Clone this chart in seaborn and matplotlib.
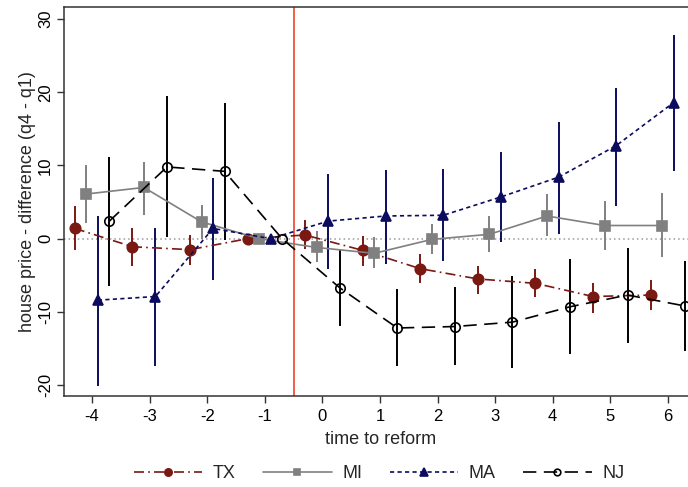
import numpy as np
import pandas as pd
import matplotlib
matplotlib.use("Agg")
import matplotlib.pyplot as plt
import seaborn as sns

# ---- data ----
time = [-4, -3, -2, -1, 0, 1, 2, 3, 4, 5, 6]
series = ["TX", "MI", "MA", "NJ"]

tx = [1.4, -1.1, -1.5, 0.0, 0.5, -1.6, -4.1, -5.5, -6.1, -7.9, -7.7]
tx_lo = [-1.5, -3.7, -3.6, np.nan, -1.45, -3.7, -6.0, -7.5, -8.0, -10.1, -9.8]
tx_hi = [4.4, 1.5, 0.5, np.nan, 2.55, 0.4, -2.1, -3.7, -4.1, -6.0, -5.6]

mi = [6.1, 7.0, 2.3, 0.0, -1.2, -2.0, -0.1, 0.6, 3.1, 1.8, 1.8]
mi_lo = [2.2, 3.3, -0.1, np.nan, -3.2, -4.05, -2.1, -1.8, 0.3, -1.5, -2.5]
mi_hi = [10.0, 10.5, 4.6, np.nan, 1.0, 0.2, 2.0, 3.1, 6.1, 5.15, 6.2]

ma = [-8.4, -7.9, 1.4, 0.0, 2.4, 3.1, 3.2, 5.7, 8.4, 12.7, 18.6]
ma_lo = [-20.1, -17.4, -5.6, np.nan, -4.2, -3.4, -3.1, -0.5, 0.7, 4.4, 9.25]
ma_hi = [3.1, 1.4, 8.25, np.nan, 8.8, 9.4, 9.5, 11.8, 15.9, 20.6, 27.8]

nj = [2.4, 9.8, 9.2, 0.0, -6.7, -12.2, -12.0, -11.4, -9.3, -7.7, -9.2]
nj_lo = [-6.5, 0.2, -0.2, np.nan, -11.9, -17.4, -17.25, -17.7, -15.75, -14.2, -15.4]
nj_hi = [11.2, 19.5, 18.6, np.nan, -1.6, -6.9, -6.55, -5.1, -2.8, -1.3, -3.1]

yticks = [-20, -10, 0, 10, 20, 30]
xticks = [-4, -3, -2, -1, 0, 1, 2, 3, 4, 5, 6]
reform_line = -0.5

# ---- styling (kept separate from data) ----
dodge = {"TX": -0.3, "MI": -0.1, "MA": 0.1, "NJ": 0.3}
styles = {
    "TX": dict(color="#7a1812", ls=(0, (6, 2.5, 1, 2.5)), marker="o", ms=7.5, mfc="#7a1812", mec="#7a1812"),
    "MI": dict(color="#808080", ls="-", marker="s", ms=7, mfc="#808080", mec="#808080"),
    "MA": dict(color="#0c0c5e", ls=(0, (2.5, 2)), marker="^", ms=7.5, mfc="#0c0c5e", mec="#0c0c5e"),
    "NJ": dict(color="#000000", ls=(0, (8, 4.5)), marker="o", ms=6.8, mfc="none", mec="#000000"),
}

data = {
    "TX": (tx, tx_lo, tx_hi),
    "MI": (mi, mi_lo, mi_hi),
    "MA": (ma, ma_lo, ma_hi),
    "NJ": (nj, nj_lo, nj_hi),
}

sns.set_style("ticks")
plt.rcParams["font.family"] = ["Liberation Sans", "DejaVu Sans"]

fig = plt.figure(figsize=(6.88, 4.87), dpi=100)
ax = fig.add_axes([64 / 688, 91 / 487, 624 / 688, 388.5 / 487])

ax.axhline(0, color="#9a9a9a", ls=(0, (1, 2)), lw=1.1, zorder=1)
ax.axvline(reform_line, color="#f0503c", lw=1.3, zorder=1)

for name in series:
    est, lo, hi = data[name]
    st = styles[name]
    x = np.array(time, dtype=float) + dodge[name]
    df = pd.DataFrame({"x": x, "y": est})
    ax.vlines(x, lo, hi, color=st["color"], lw=1.4, zorder=2)
    sns.lineplot(
        data=df, x="x", y="y", ax=ax, color=st["color"], linestyle=st["ls"],
        lw=1.2, marker=st["marker"], markersize=st["ms"],
        markerfacecolor=st["mfc"], markeredgecolor=st["mec"],
        markeredgewidth=1.2, errorbar=None, zorder=3, label=name,
    )

ax.set_xlim(-4.488, 6.349)
ax.set_ylim(-21.49, 31.58)
ax.set_xticks(xticks)
ax.set_yticks(yticks)
ax.set_xticklabels([str(t) for t in xticks])
ax.set_yticklabels([str(t) for t in yticks])
ax.tick_params(axis="both", length=5, width=1, labelsize=12, color="#333333",
               labelcolor="black", direction="out")
ax.tick_params(axis="x", pad=4.5)
ax.tick_params(axis="y", pad=3)
for lab in ax.get_yticklabels():
    lab.set_rotation(90)
    lab.set_va("center")

for side in ["left", "bottom", "top"]:
    ax.spines[side].set_color("#333333")
    ax.spines[side].set_linewidth(1.1)
ax.spines["right"].set_visible(False)

ax.set_xlabel("time to reform", fontsize=13)
ax.set_ylabel("house price - difference (q4 - q1)", fontsize=13)
ax.xaxis.set_label_coords(0.508, -0.1107)
ax.xaxis.label.set_va("center")
ax.yaxis.set_label_coords(-0.058, 0.5)
ax.yaxis.label.set_va("center")

handles, labels = ax.get_legend_handles_labels()
if ax.get_legend() is not None:
    ax.get_legend().remove()
fig.legend(handles, labels, loc="center", bbox_to_anchor=(0.551, 0.027),
           ncol=4, frameon=False, fontsize=13, handlelength=3.8,
           handletextpad=0.6, columnspacing=1.5, markerscale=0.7)

fig.savefig("out.png", dpi=100)
